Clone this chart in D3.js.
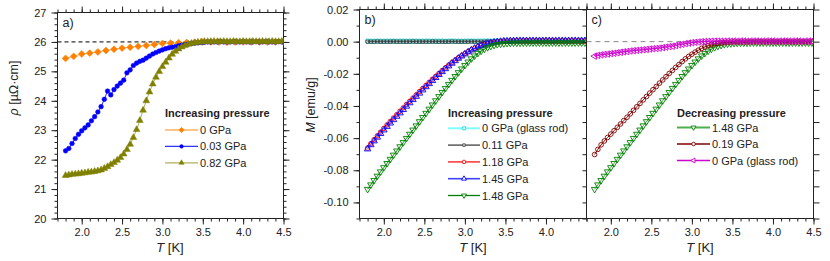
<!DOCTYPE html>
<html>
<head>
<meta charset="utf-8">
<script src="https://cdn.jsdelivr.net/npm/d3@7"></script>
<style>
	body { margin: 0; background: #fff; }
	svg { display: block; font-family: Arial, "Liberation Sans", sans-serif; }
</style>
</head>
<body>
<svg id="chart" width="830" height="261"></svg>
<script>
// temperature grids [K]
var tCoarse = [1.8,1.9,2.0,2.1,2.2,2.3,2.4,2.5,2.6,2.7,2.8,2.9,3.0,3.1,3.2,3.3,3.4,3.5,3.6,3.7,3.8,3.9,4.0,4.1,4.2,4.3,4.4,4.5];
var tFine = [
	1.80,1.84,1.88,1.92,1.96,2.00,2.04,2.08,2.12,2.16,
	2.20,2.24,2.28,2.32,2.36,2.40,2.44,2.48,2.52,2.56,
	2.60,2.64,2.68,2.72,2.76,2.80,2.84,2.88,2.92,2.96,
	3.00,3.04,3.08,3.12,3.16,3.20,3.24,3.28,3.32,3.36,
	3.40,3.44,3.48,3.52,3.56,3.60,3.64,3.68,3.72,3.76,
	3.80,3.84,3.88,3.92,3.96,4.00,4.04,4.08,4.12,4.16,
	4.20,4.24,4.28,4.32,4.36,4.40,4.44,4.48];

// a) resistivity [µΩ·cm], increasing pressure
var rho0GPa = [25.44,25.51,25.59,25.62,25.66,25.71,25.75,25.79,25.82,25.85,25.88,25.91,25.95,25.96,25.97,25.98,25.99,26.00,26.00,26.00,25.99,26.00,26.00,26.00,26.00,26.00,26.00,26.00];
var rho003GPa = [
	22.30,22.38,22.55,22.72,22.86,22.98,23.08,23.18,23.32,23.46,
	23.62,23.80,24.05,24.33,24.20,24.38,24.50,24.60,24.70,24.95,
	25.05,25.20,25.28,25.34,25.38,25.45,25.52,25.59,25.64,25.69,
	25.73,25.77,25.80,25.82,25.84,25.87,25.89,25.91,25.93,25.95,
	25.96,25.97,25.98,25.99,26.00,26.00,26.00,26.00,26.01,26.00,
	26.00,26.00,26.01,26.00,26.00,26.01,26.00,26.00,26.00,26.01,
	26.00,26.00,26.01,26.00,26.00,26.00,26.01,26.00];
var rho082GPa = [
	21.46,21.48,21.50,21.51,21.52,21.54,21.55,21.57,21.58,21.60,
	21.62,21.65,21.70,21.76,21.83,21.90,21.98,22.07,22.19,22.34,
	22.52,22.75,23.02,23.33,23.68,24.00,24.30,24.57,24.80,24.99,
	25.16,25.31,25.45,25.58,25.68,25.76,25.83,25.88,25.92,25.95,
	25.97,25.99,26.00,26.01,26.01,26.01,26.02,26.01,26.01,26.02,
	26.01,26.01,26.02,26.01,26.01,26.02,26.01,26.01,26.02,26.01,
	26.01,26.02,26.01,26.01,26.02,26.01,26.01,26.02];

// b) magnetisation [emu/g], increasing pressure
var mGlassInc = [
	0.0003,0.0003,0.0002,0.0003,0.0003,0.0002,0.0003,0.0003,0.0003,0.0002,
	0.0003,0.0003,0.0002,0.0003,0.0003,0.0003,0.0002,0.0003,0.0003,0.0003,
	0.0002,0.0003,0.0003,0.0003,0.0002,0.0003,0.0003,0.0003,0.0003,0.0002,
	0.0003,0.0003,0.0003,0.0002,0.0003,0.0003,0.0003,0.0004,0.0003,0.0003,
	0.0004,0.0003,0.0004,0.0004,0.0003,0.0004,0.0004,0.0004,0.0003,0.0004,
	0.0004,0.0004,0.0004,0.0003,0.0004,0.0004,0.0004,0.0004,0.0004,0.0003,
	0.0004,0.0004,0.0004,0.0004,0.0004,0.0004,0.0004,0.0004];
var m011GPa = [
	0.0000,0.0000,0.0000,0.0001,0.0000,0.0000,0.0000,0.0000,0.0001,0.0000,
	0.0000,0.0000,0.0000,0.0000,0.0001,0.0000,0.0000,0.0000,0.0000,0.0000,
	0.0001,0.0000,0.0000,0.0000,0.0000,0.0000,0.0001,0.0000,0.0000,0.0000,
	0.0000,0.0000,0.0001,0.0000,0.0000,0.0000,0.0000,0.0001,0.0000,0.0000,
	0.0000,0.0001,0.0000,0.0000,0.0000,0.0001,0.0000,0.0000,0.0000,0.0001,
	0.0000,0.0000,0.0001,0.0000,0.0000,0.0001,0.0000,0.0000,0.0001,0.0000,
	0.0000,0.0001,0.0000,0.0000,0.0001,0.0000,0.0000,0.0001];
var m118GPa = [
	-0.0662,-0.0635,-0.0610,-0.0586,-0.0563,-0.0540,-0.0518,-0.0496,-0.0475,-0.0454,
	-0.0433,-0.0412,-0.0391,-0.0371,-0.0351,-0.0331,-0.0311,-0.0291,-0.0272,-0.0253,
	-0.0234,-0.0216,-0.0198,-0.0180,-0.0163,-0.0146,-0.0130,-0.0115,-0.0100,-0.0087,
	-0.0074,-0.0062,-0.0051,-0.0041,-0.0032,-0.0024,-0.0017,-0.0011,-0.0007,-0.0003,
	0.0000,0.0002,0.0003,0.0004,0.0004,0.0005,0.0005,0.0005,0.0005,0.0005,
	0.0005,0.0005,0.0005,0.0005,0.0005,0.0005,0.0005,0.0005,0.0005,0.0005,
	0.0005,0.0005,0.0005,0.0005,0.0005,0.0005,0.0005,0.0005];
var m145GPa = [
	-0.0668,-0.0642,-0.0618,-0.0595,-0.0572,-0.0550,-0.0528,-0.0507,-0.0486,-0.0465,
	-0.0444,-0.0423,-0.0402,-0.0381,-0.0361,-0.0341,-0.0321,-0.0301,-0.0281,-0.0262,
	-0.0243,-0.0224,-0.0205,-0.0187,-0.0169,-0.0152,-0.0135,-0.0119,-0.0104,-0.0090,
	-0.0077,-0.0064,-0.0052,-0.0042,-0.0033,-0.0025,-0.0018,-0.0012,-0.0008,-0.0004,
	-0.0001,0.0001,0.0003,0.0004,0.0005,0.0005,0.0006,0.0006,0.0006,0.0006,
	0.0006,0.0006,0.0006,0.0006,0.0006,0.0006,0.0006,0.0006,0.0006,0.0006,
	0.0006,0.0006,0.0006,0.0006,0.0006,0.0006,0.0006,0.0006];
var m148GPa = [
	-0.0918,-0.0890,-0.0863,-0.0836,-0.0809,-0.0783,-0.0757,-0.0731,-0.0705,-0.0679,
	-0.0653,-0.0627,-0.0601,-0.0575,-0.0549,-0.0523,-0.0497,-0.0471,-0.0445,-0.0419,
	-0.0393,-0.0367,-0.0341,-0.0315,-0.0290,-0.0265,-0.0240,-0.0216,-0.0192,-0.0169,
	-0.0147,-0.0126,-0.0106,-0.0088,-0.0072,-0.0058,-0.0046,-0.0036,-0.0028,-0.0022,
	-0.0017,-0.0014,-0.0012,-0.0010,-0.0009,-0.0008,-0.0008,-0.0008,-0.0007,-0.0007,
	-0.0007,-0.0007,-0.0007,-0.0007,-0.0007,-0.0007,-0.0007,-0.0007,-0.0007,-0.0007,
	-0.0007,-0.0007,-0.0007,-0.0007,-0.0007,-0.0007,-0.0007,-0.0007];

// c) magnetisation [emu/g], decreasing pressure
var m019GPa = [
	-0.0702,-0.0670,-0.0642,-0.0618,-0.0596,-0.0575,-0.0554,-0.0533,-0.0512,-0.0491,
	-0.0470,-0.0449,-0.0427,-0.0405,-0.0384,-0.0362,-0.0341,-0.0320,-0.0299,-0.0279,
	-0.0258,-0.0238,-0.0218,-0.0198,-0.0179,-0.0160,-0.0142,-0.0124,-0.0107,-0.0092,
	-0.0078,-0.0065,-0.0053,-0.0042,-0.0033,-0.0025,-0.0019,-0.0014,-0.0010,-0.0008,
	-0.0006,-0.0004,-0.0003,-0.0002,-0.0002,-0.0002,-0.0002,-0.0002,-0.0001,-0.0001,
	-0.0001,-0.0001,-0.0001,-0.0001,-0.0001,-0.0001,-0.0001,-0.0001,-0.0001,-0.0001,
	-0.0001,-0.0001,-0.0001,-0.0001,-0.0001,-0.0001,-0.0001,-0.0001];
var mGlassDec = [
	-0.0090,-0.0085,-0.0082,-0.0079,-0.0077,-0.0074,-0.0072,-0.0069,-0.0066,-0.0063,
	-0.0061,-0.0058,-0.0056,-0.0054,-0.0052,-0.0050,-0.0048,-0.0046,-0.0044,-0.0042,
	-0.0040,-0.0037,-0.0034,-0.0031,-0.0028,-0.0024,-0.0020,-0.0016,-0.0012,-0.0009,
	-0.0006,-0.0004,-0.0002,0.0000,0.0001,0.0002,0.0003,0.0003,0.0003,0.0003,
	0.0003,0.0004,0.0003,0.0004,0.0003,0.0004,0.0004,0.0003,0.0004,0.0004,
	0.0004,0.0003,0.0004,0.0004,0.0004,0.0004,0.0003,0.0004,0.0004,0.0004,
	0.0004,0.0004,0.0004,0.0004,0.0003,0.0004,0.0004,0.0004];

// ticks
var tTicks = [2.0,2.5,3.0,3.5,4.0,4.5];
var tTicksB = [2.0,2.5,3.0,3.5,4.0];
var rhoTicks = [20,21,22,23,24,25,26,27];
var mTicks = [-0.10,-0.08,-0.06,-0.04,-0.02,0.00,0.02];

(function(d3) {
	"use strict";

	var svg = d3.select("#chart");
	var ink = "#222";

	var symbols = {
		diamond: { type: d3.symbolSquare, rot: 45 },
		circle: { type: d3.symbolCircle, rot: 0 },
		square: { type: d3.symbolSquare, rot: 0 },
		triUp: { type: d3.symbolTriangle, rot: 0 },
		triDown: { type: d3.symbolTriangle, rot: 180 },
		triLeft: { type: d3.symbolTriangle, rot: -90 }
	};

	function makePanel(p) {
		p.x = d3.scaleLinear().domain([1.7, 4.5]).range([p.left, p.right]);
		p.y = d3.scaleLinear().domain(p.yDomain).range([p.bottom, p.top]);
		p.g = svg.append("g").attr("class", "panel-" + p.id);
		return p;
	}

	function styleAxis(sel) {
		sel.select(".domain").remove();
		sel.attr("font-size", 11).attr("font-family", null);
		sel.selectAll(".tick line").attr("stroke", ink);
		sel.selectAll(".tick text").attr("fill", ink);
	}

	function drawAxes(p) {
		var g = p.g.append("g").attr("class", "axes");
		var xMinor = d3.range(17, 46).map(function(d) { return d / 10; });
		var tf = function(d) { return d.toFixed(1); };

		// bottom
		g.append("g").attr("transform", "translate(0," + p.bottom + ")")
			.call(d3.axisBottom(p.x).tickValues(xMinor).tickSize(3).tickFormat(""))
			.call(styleAxis);
		g.append("g").attr("transform", "translate(0," + p.bottom + ")")
			.call(d3.axisBottom(p.x).tickValues(p.xLabels).tickSize(6).tickPadding(4).tickFormat(tf))
			.call(styleAxis);
		// top
		g.append("g").attr("transform", "translate(0," + p.top + ")")
			.call(d3.axisTop(p.x).tickValues(xMinor).tickSize(3).tickFormat(""))
			.call(styleAxis);
		g.append("g").attr("transform", "translate(0," + p.top + ")")
			.call(d3.axisTop(p.x).tickValues(tTicks).tickSize(6).tickFormat(""))
			.call(styleAxis);

		// left
		if (p.yLabels) {
			g.append("g").attr("transform", "translate(" + p.left + ",0)")
				.call(d3.axisLeft(p.y).tickValues(p.yMinor).tickSize(3).tickFormat(""))
				.call(styleAxis);
			g.append("g").attr("transform", "translate(" + p.left + ",0)")
				.call(d3.axisLeft(p.y).tickValues(p.yLabels).tickSize(6).tickPadding(5).tickFormat(p.yFormat))
				.call(styleAxis);
		} else {
			g.append("g").attr("transform", "translate(" + p.left + ",0)")
				.call(d3.axisLeft(p.y).tickValues(p.yMinor).tickSize(4).tickFormat(""))
				.call(styleAxis);
		}
		// right
		if (p.rightTicks) {
			g.append("g").attr("transform", "translate(" + p.right + ",0)")
				.call(d3.axisRight(p.y).tickValues(p.yMinor).tickSize(p.rightMinorSize).tickFormat(""))
				.call(styleAxis);
			if (p.yLabels) {
				g.append("g").attr("transform", "translate(" + p.right + ",0)")
					.call(d3.axisRight(p.y).tickValues(p.yLabels).tickSize(6).tickFormat(""))
					.call(styleAxis);
			}
		}

		p.g.append("rect")
			.attr("x", p.left).attr("y", p.top)
			.attr("width", p.right - p.left).attr("height", p.bottom - p.top)
			.attr("fill", "none").attr("stroke", ink).attr("stroke-width", 1);
	}

	function drawSeries(p, list) {
		var clipId = "clip-" + p.id;
		svg.append("clipPath").attr("id", clipId).append("rect")
			.attr("x", p.left).attr("y", p.top)
			.attr("width", p.right - p.left).attr("height", p.bottom - p.top);
		var g = p.g.append("g").attr("clip-path", "url(#" + clipId + ")");

		if (p.refLine) {
			g.append("line")
				.attr("x1", p.left).attr("x2", p.right)
				.attr("y1", p.y(p.refLine.value)).attr("y2", p.y(p.refLine.value))
				.attr("stroke", p.refLine.color).attr("stroke-width", 1)
				.attr("stroke-dasharray", p.refLine.dash);
		}

		list.forEach(function(s) {
			var pts = s.t.map(function(t, i) { return [t, s.v[i]]; });
			var line = d3.line().x(function(d) { return p.x(d[0]); }).y(function(d) { return p.y(d[1]); });
			g.append("path").datum(pts)
				.attr("d", line).attr("fill", "none")
				.attr("stroke", s.line).attr("stroke-width", 1);
			var sym = symbols[s.sym];
			g.selectAll(null).data(pts).enter().append("path")
				.attr("d", d3.symbol().type(sym.type).size(s.size))
				.attr("transform", function(d) {
					return "translate(" + p.x(d[0]) + "," + p.y(d[1]) + ") rotate(" + sym.rot + ")";
				})
				.attr("fill", s.open ? "none" : s.color)
				.attr("stroke", s.color)
				.attr("stroke-width", s.open ? 0.9 : 0.5);
		});
	}

	function drawLegend(p, lg, list) {
		var g = p.g.append("g").attr("class", "legend");
		g.append("text")
			.attr("x", lg.x).attr("y", lg.y)
			.attr("font-size", 11).attr("font-weight", "bold").attr("fill", ink)
			.text(lg.title);
		list.forEach(function(s, i) {
			var cy = lg.y0 + i * lg.dy;
			g.append("line")
				.attr("x1", lg.x).attr("x2", lg.x + lg.len)
				.attr("y1", cy).attr("y2", cy)
				.attr("stroke", s.legendLine || s.line).attr("stroke-width", s.legendWidth || 1.3);
			var sym = symbols[s.sym];
			g.append("path")
				.attr("d", d3.symbol().type(sym.type).size(s.size * 0.6))
				.attr("transform", "translate(" + (lg.x + lg.len / 2) + "," + cy + ") rotate(" + sym.rot + ")")
				.attr("fill", s.open ? "#fff" : s.color)
				.attr("stroke", s.color).attr("stroke-width", s.open ? 0.9 : 0.5);
			g.append("text")
				.attr("x", lg.x + lg.len + 2).attr("y", cy + 4)
				.attr("font-size", 11).attr("fill", ink)
				.text(s.name);
		});
	}

	function axisTitle(x, y, rotate, main, unit, size) {
		var t = svg.append("text")
			.attr("text-anchor", "middle").attr("font-size", size).attr("fill", ink);
		if (rotate) {
			t.attr("transform", "translate(" + x + "," + y + ") rotate(-90)");
		} else {
			t.attr("x", x).attr("y", y);
		}
		t.append("tspan").attr("font-style", "italic").text(main);
		t.append("tspan").text(" " + unit);
	}

	function panelTag(p, label) {
		svg.append("text")
			.attr("x", p.left + 5).attr("y", p.top + 14)
			.attr("font-size", 12.5).attr("fill", ink)
			.text(label);
	}

	var mFmt = function(d) { return d.toFixed(2); };
	var mMinor = d3.range(-11, 3).map(function(d) { return d / 100; });

	// ---- panel a
	var pa = makePanel({
		id: "a", left: 57.5, right: 283.5, top: 12.5, bottom: 218.5,
		yDomain: [20, 27], xLabels: tTicks, yLabels: rhoTicks,
		yMinor: d3.range(100, 136).map(function(d) { return d / 5; }),
		yFormat: d3.format("d"), rightTicks: true, rightMinorSize: 3,
		refLine: { value: 26, color: "#000", dash: "4,3" }
	});
	var seriesA = [
		{ name: "0 GPa", t: tCoarse, v: rho0GPa, color: "#ff8000", line: "#ffb060", sym: "diamond", size: 24 },
		{ name: "0.03 GPa", t: tFine, v: rho003GPa, color: "#0000ff", line: "#3030ff", sym: "circle", size: 17 },
		{ name: "0.82 GPa", t: tFine, v: rho082GPa, color: "#808000", line: "#b0b060", sym: "triUp", size: 20 }
	];
	drawAxes(pa);
	drawSeries(pa, seriesA);
	drawLegend(pa, { title: "Increasing pressure", x: 165, y: 117, y0: 130, dy: 16.4, len: 33 }, seriesA);
	panelTag(pa, "a)");

	// ---- panel b
	var pb = makePanel({
		id: "b", left: 359.5, right: 586.5, top: 9.5, bottom: 218.5,
		yDomain: [-0.11, 0.02], xLabels: tTicksB, yLabels: mTicks,
		yMinor: mMinor, yFormat: mFmt, rightTicks: false
	});
	var seriesB = [
		{ name: "0 GPa (glass rod)", t: tFine, v: mGlassInc, color: "#00e0e0", line: "#80ffff", legendWidth: 2, sym: "circle", size: 16, open: true },
		{ name: "0.11 GPa", t: tFine, v: m011GPa, color: "#404040", line: "#404040", sym: "square", size: 10, open: true },
		{ name: "1.18 GPa", t: tFine, v: m118GPa, color: "#ff0000", line: "#ff4040", legendWidth: 1.6, sym: "circle", size: 17, open: true },
		{ name: "1.45 GPa", t: tFine, v: m145GPa, color: "#0000ff", line: "#4040ff", legendWidth: 1.6, sym: "triUp", size: 18, open: true },
		{ name: "1.48 GPa", t: tFine, v: m148GPa, color: "#008000", line: "#008000", sym: "triDown", size: 18, open: true }
	];
	drawAxes(pb);
	drawSeries(pb, seriesB);
	drawLegend(pb, { title: "Increasing pressure", x: 448, y: 117, y0: 128.3, dy: 16.8, len: 32 }, seriesB);
	panelTag(pb, "b)");

	// ---- panel c
	var pc = makePanel({
		id: "c", left: 586.5, right: 813.5, top: 9.5, bottom: 218.5,
		yDomain: [-0.11, 0.02], xLabels: tTicks, yLabels: null,
		yMinor: mMinor, rightTicks: true, rightMinorSize: 6,
		refLine: { value: 0, color: "#888", dash: "5,4" }
	});
	var seriesC = [
		{ name: "1.48 GPa", t: tFine, v: m148GPa, color: "#008000", line: "#40a040", legendLine: "#50b050", legendWidth: 2, sym: "triDown", size: 18, open: true },
		{ name: "0.19 GPa", t: tFine, v: m019GPa, color: "#800000", line: "#800000", sym: "circle", size: 17, open: true },
		{ name: "0 GPa (glass rod)", t: tFine, v: mGlassDec, color: "#cc00cc", line: "#cc00cc", sym: "triLeft", size: 18, open: true }
	];
	drawAxes(pc);
	drawSeries(pc, seriesC);
	drawLegend(pc, { title: "Decreasing pressure", x: 677, y: 117, y0: 127.5, dy: 16.5, len: 33 }, seriesC);
	panelTag(pc, "c)");

	// axis titles
	axisTitle(170, 252, false, "T", "[K]", 13);
	axisTitle(473, 252, false, "T", "[K]", 13);
	axisTitle(700, 252, false, "T", "[K]", 13);
	axisTitle(18, 88, true, "\u03c1", "[\u00b5\u03a9\u00b7cm]", 12.5);
	axisTitle(315, 105, true, "M", "[emu/g]", 12.5);
})(d3);
</script>
</body>
</html>
